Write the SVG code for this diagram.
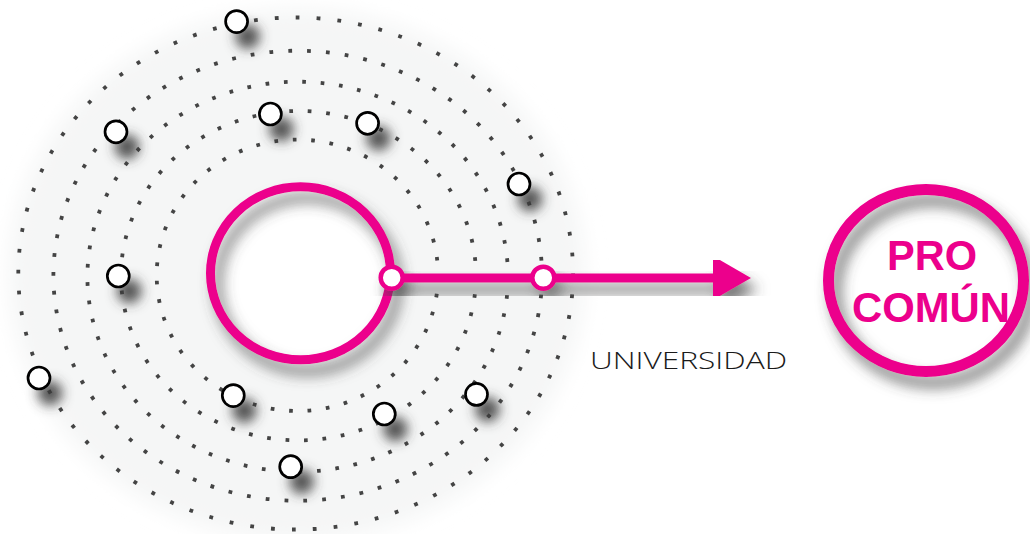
<svg xmlns="http://www.w3.org/2000/svg" width="1030" height="534" viewBox="0 0 1030 534">
<defs>
<style>
.ring{fill:none;stroke:#444;stroke-width:3.8;stroke-linecap:butt}
.node{fill:#fff;stroke:#000;stroke-width:2.7}
.pink{fill:none;stroke:#ec008c}
.junc{fill:#fff;stroke:#ec008c;stroke-width:4.5}
.lbl{font-family:"Liberation Sans",Arial,sans-serif}
</style>
<filter id="sh" x="-150%" y="-150%" width="400%" height="400%">
<feGaussianBlur in="SourceAlpha" stdDeviation="6"/>
<feOffset dx="11" dy="15" result="b"/>
<feFlood flood-color="#3a3a3a" flood-opacity="0.85"/>
<feComposite in2="b" operator="in"/>
<feMerge><feMergeNode/><feMergeNode in="SourceGraphic"/></feMerge>
</filter>
<filter id="shBig" x="-30%" y="-30%" width="160%" height="160%">
<feGaussianBlur in="SourceAlpha" stdDeviation="7"/>
<feOffset dx="7" dy="11" result="b"/>
<feFlood flood-color="#444" flood-opacity="0.7"/>
<feComposite in2="b" operator="in"/>
<feMerge><feMergeNode/><feMergeNode in="SourceGraphic"/></feMerge>
</filter>
<filter id="halo" x="-20%" y="-20%" width="140%" height="140%">
<feGaussianBlur stdDeviation="10"/>
</filter>
<marker id="arr" markerUnits="userSpaceOnUse" markerWidth="40" markerHeight="46" refX="0" refY="23" orient="auto">
<path d="M0,1 L38,23 L0,45 z" fill="#ec008c"/>
</marker>
</defs>
<rect width="1030" height="534" fill="#fff"/>

<g id="background">
<ellipse cx="297" cy="275" rx="288" ry="266" fill="#f5f6f6" filter="url(#halo)"/>
</g>

<g id="orbits">
<ellipse class="ring" cx="295.7" cy="273.5" rx="277.4" ry="256" pathLength="80" stroke-dasharray="0.18 0.82"/>
<ellipse class="ring" cx="297.7" cy="275.7" rx="244.3" ry="225" pathLength="78" stroke-dasharray="0.2 0.8"/>
<ellipse class="ring" cx="297.7" cy="276.7" rx="210.3" ry="195" pathLength="69" stroke-dasharray="0.2 0.8"/>
<ellipse class="ring" cx="298.5" cy="275.7" rx="177.5" ry="164.7" pathLength="58" stroke-dasharray="0.2 0.8"/>
<ellipse class="ring" cx="297.4" cy="275.3" rx="140.7" ry="135.7" pathLength="47" stroke-dasharray="0.2 0.8"/>
</g>

<g id="universidad">
<ellipse cx="300.5" cy="273.3" rx="90" ry="86.5" fill="#fff"/>
<ellipse class="pink" cx="300.5" cy="273.3" rx="90" ry="86.5" stroke-width="9" filter="url(#shBig)"/>
</g>

<g id="connectors" filter="url(#shBig)">
<line x1="392" y1="278" x2="713" y2="278" stroke="#ec008c" stroke-width="9" marker-end="url(#arr)"/>
<circle class="junc" cx="391.7" cy="277.7" r="11"/>
<circle class="junc" cx="543.3" cy="277.7" r="11"/>
</g>

<g id="label-universidad">
<text x="590" y="369.3" font-family="'Open Sans','Liberation Sans',Arial,sans-serif" font-weight="300" font-size="23.5" fill="#1a1a1a" textLength="197" lengthAdjust="spacingAndGlyphs">UNIVERSIDAD</text>
</g>

<g id="nodes" filter="url(#sh)">
<circle id="n1" class="node" cx="236.6" cy="21.6" r="11"/>
<circle id="n2" class="node" cx="116" cy="131.8" r="11"/>
<circle id="n3" class="node" cx="270.4" cy="114" r="11"/>
<circle id="n4" class="node" cx="367.6" cy="123.3" r="11"/>
<circle id="n5" class="node" cx="519" cy="184" r="11"/>
<circle id="n6" class="node" cx="118.3" cy="276" r="11"/>
<circle id="n7" class="node" cx="39" cy="378" r="11"/>
<circle id="n8" class="node" cx="233.3" cy="395.6" r="11"/>
<circle id="n9" class="node" cx="384.3" cy="414" r="11"/>
<circle id="n10" class="node" cx="476.5" cy="394.4" r="11"/>
<circle id="n11" class="node" cx="290.7" cy="466.7" r="11"/>
</g>

<g id="procomun">
<ellipse cx="926" cy="280.5" rx="97.5" ry="91" fill="#fff"/>
<ellipse class="pink" cx="926" cy="280.5" rx="97.5" ry="91" stroke-width="11" filter="url(#shBig)"/>
<text class="lbl" x="932" y="270" font-size="42" font-weight="bold" fill="#ec008c" text-anchor="middle" textLength="90" lengthAdjust="spacingAndGlyphs">PRO</text>
<text class="lbl" x="931" y="321.7" font-size="42" font-weight="bold" fill="#ec008c" text-anchor="middle" textLength="158" lengthAdjust="spacingAndGlyphs">COMÚN</text>
</g>
</svg>
